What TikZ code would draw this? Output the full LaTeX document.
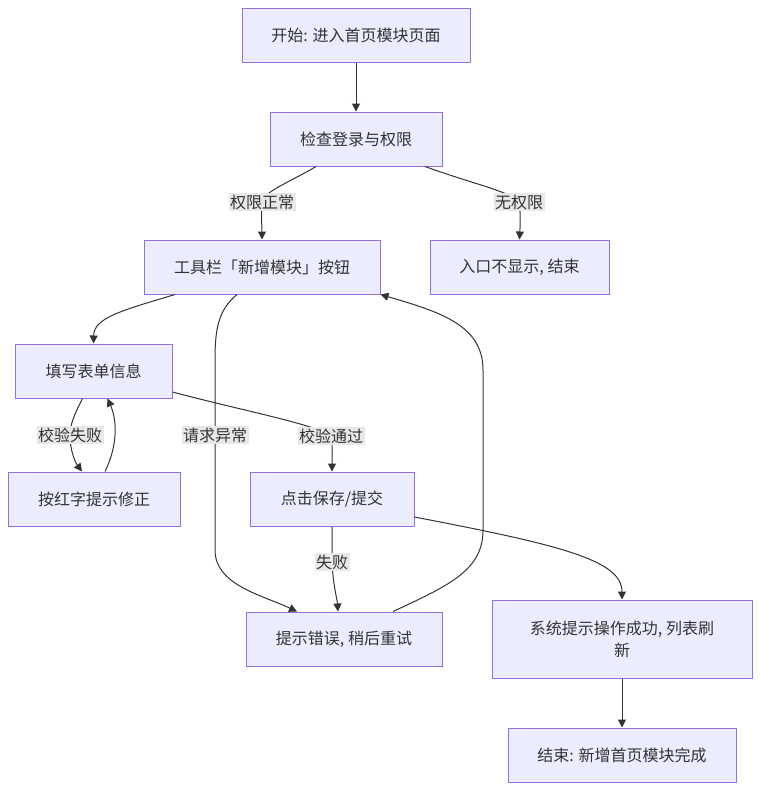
\documentclass[tikz,border=0pt]{standalone}
\usepackage{xcolor}
\usepackage{fontspec}
\setmainfont{Noto Sans CJK SC}
\usepackage{tikz}
\usetikzlibrary{arrows,arrows.meta,positioning}
\definecolor{boxfill}{HTML}{ECECFF}
\definecolor{boxline}{HTML}{9370DB}
\definecolor{inkgray}{HTML}{333333}
\definecolor{labelfill}{HTML}{E8E8E8}
\tikzset{
  every picture/.style = {
    >={Triangle[length=8pt,width=8pt]},
  }
  ,
  flow/.style = {
    ->,
    draw = inkgray,
    line width = 1pt
  }
  ,
  box/.style = {
    rectangle,
    draw = boxline,
    fill = boxfill,
    line width = 1pt,
    text = inkgray,
    font = \fontsize{16}{22}\selectfont,
    minimum height = 54pt,
    inner xsep = 0pt
  }
  , % labels of edges
  label-edge/.style = {
    fill = labelfill,
    text = inkgray,
    font = \fontsize{16}{19}\selectfont,
    inner sep = 1.5pt
  }
}

\begin{document}
\begin{tikzpicture}[x=1pt, y=-1pt]
		\useasboundingbox (0,0) rectangle (760,790);
		\node[box, minimum width=228pt] at (356,35) (start) {开始: 进入首页模块页面};
		\node[box, minimum width=172pt] at (356,139) (check) {检查登录与权限};
		\node[box, minimum width=236pt] at (262,267) (toolbar) {工具栏「新增模块」按钮};
		\node[box, minimum width=179pt] at (519.5,267) (noentry) {入口不显示, 结束};
		\node[box, minimum width=157pt] at (93.5,371) (form) {填写表单信息};
		\node[box, minimum width=172pt] at (94,499) (fix) {按红字提示修正};
		\node[box, minimum width=164pt] at (332,499) (save) {点击保存/提交};
		\node[box, minimum width=196pt] at (344,639) (error) {提示错误, 稍后重试};
		\node[box, minimum width=260pt, minimum height=78pt, align=center] at (622,639) (success) {系统提示操作成功, 列表刷\\新};
		\node[box, minimum width=228pt] at (622,755) (end) {结束: 新增首页模块完成};
		\draw[flow] (start) -- (check);
		\draw[flow] ([xshift=-40pt]check.south) .. controls (290,182) and (263,192) .. (262,202) node[label-edge] {权限正常} .. controls (261,215) and (262,228) .. (toolbar.north);
		\draw[flow] ([xshift=69pt]check.south) .. controls (470,183) and (512,192) .. (519,202) node[label-edge] {无权限} .. controls (521,215) and (520,228) .. (noentry.north);
		\draw[flow] ([xshift=-87pt]toolbar.south) .. controls (120,311) and (94,318) .. (form.north);
		\draw[flow] ([xshift=-11pt]form.south) .. controls (74,415) and (70,425) .. (70,435) node[label-edge] {校验失败} .. controls (70,450) and (75,462) .. ([xshift=-12pt]fix.north);
		\draw[flow] ([xshift=11pt]fix.north) .. controls (118,445) and (117,420) .. ([xshift=14pt]form.south);
		\draw[flow] ([yshift=-21pt]form.east) .. controls (240,410) and (318,425) .. (331,436) node[label-edge] {校验通过} .. controls (333,448) and (332,460) .. (save.north);
		\draw[flow] ([xshift=-25pt]toolbar.south) .. controls (218,310) and (215,330) .. (215,360) -- (215,435) node[label-edge] {请求异常} -- (215,550) .. controls (215,585) and (262,595) .. ([xshift=-47pt]error.north);
		\draw[flow] (save.south) .. controls (332,545) .. (332,562) node[label-edge] {失败} .. controls (333,585) and (337,598) .. ([xshift=-6pt]error.north);
		\draw[flow] ([xshift=49pt]error.north) .. controls (450,585) and (483,570) .. (483,530) -- (483,370) .. controls (483,325) and (440,312) .. (toolbar.south east);
		\draw[flow] ([yshift=-18pt]save.east) .. controls (560,545) and (622,560) .. (success.north);
		\draw[flow] (success) -- (end);
		\end{tikzpicture}
\end{document}
